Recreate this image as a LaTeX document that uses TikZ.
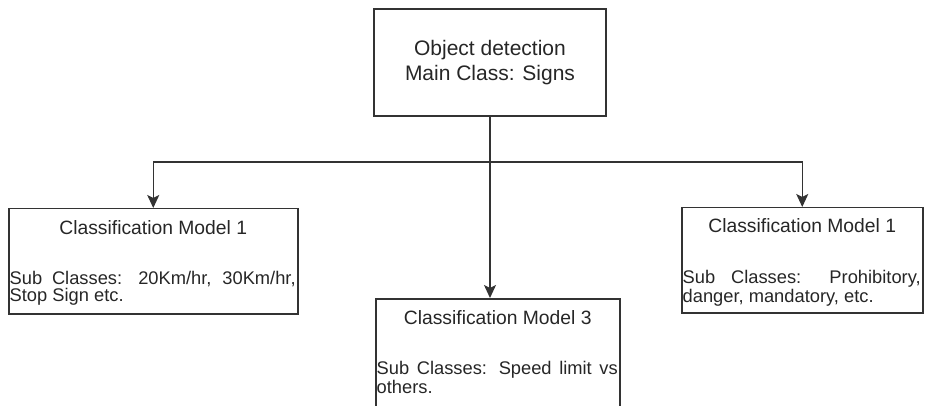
\documentclass[tikz,border=0pt]{standalone}
\usepackage{fontspec}
\setmainfont{Liberation Sans}
\usetikzlibrary{arrows.meta,positioning,calc}

\begin{document}
\begin{tikzpicture}[
  x=1pt, y=1pt,
  box/.style={draw=black!80, line width=1.5pt, inner sep=0pt},
  head/.style={text=black!85, font=\fontsize{19.3}{23}\selectfont, inner sep=0pt, anchor=base},
  body/.style={text=black!85, font=\fontsize{18.3}{17}\selectfont, inner sep=0pt, align=justify,
    anchor=north west, execute at begin node={\tolerance=9999 \hyphenpenalty=10000 }},
  arrow/.style={-{Stealth[length=13pt,width=12pt,inset=3pt]}, line width=1.5pt, draw=black!80}
]
\clip (0,0) rectangle (926,-406);

\node[box, minimum width=232pt, minimum height=107pt, align=center, text=black!85,
  font=\fontsize{21}{25}\selectfont] (obj) at (490,-62.5) {Object detection\\Main Class: Signs};

\node[box, minimum width=289pt, minimum height=105pt, anchor=north west] (model1) at (8,-208) {};
\node[head] (model1head) at ($(model1.north)+(0,-26)$) {Classification Model 1};
\node[body, text width=286pt] (model1text) at ($(model1.north west)+(1.5,-63.5)$) {Sub Classes: 20Km/hr, 30Km/hr, Stop Sign etc.};

\node[box, minimum width=244pt, minimum height=130pt, anchor=north west] (model3) at (375,-298) {};
\node[head] (model3head) at ($(model3.north)+(0,-26)$) {Classification Model 3};
\node[body, text width=241pt] (model3text) at ($(model3.north west)+(1.5,-63.5)$) {Sub Classes: Speed limit vs others.};

\node[box, minimum width=241pt, minimum height=105pt, anchor=north west] (model2) at (681,-207) {};
\node[head] (model2head) at ($(model2.north)+(0,-26)$) {Classification Model 1};
\node[body, text width=238pt] (model2text) at ($(model2.north west)+(1.5,-63.5)$) {Sub Classes: Prohibitory, danger, mandatory, etc.};

\coordinate (fork) at (490,-162);
\draw[arrow] (obj.south) -- (obj.south |- model3.north);
\draw[arrow] (fork) -| (model1.north);
\draw[arrow] (fork) -| (model2.north);
\end{tikzpicture}
\end{document}
